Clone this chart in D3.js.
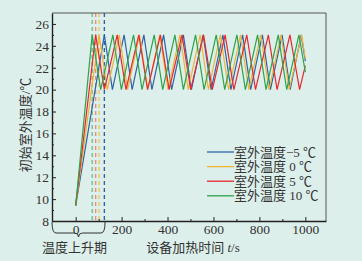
<!DOCTYPE html>
<html lang="zh">
<head>
<meta charset="UTF-8">
<title>初始室外温度</title>
<script src="https://d3js.org/d3.v7.min.js"></script>
<style>
    body {
        margin: 0;
        background-color: #ddefeb;
    }
    svg text {
        font-family: "Liberation Serif", "Noto Sans CJK SC", serif;
        fill: #333;
    }
</style>
</head>
<body>
<div id="chart"></div>
<script>
// series labels (legend order)
const seriesNames = ["室外温度\u22125 \u2103", "室外温度 0 \u2103", "室外温度 5 \u2103", "室外温度 10 \u2103"];
const seriesColors = ["#2e64a6", "#efb33a", "#e8282f", "#2ea34c"];
const dashColors = ["#3563a0", "#f2c458", "#ef8a8c", "#6cc484"];

// [time s, temperature ℃] vertices
const tempMinus5 = [[0,9.4],[125,25],[160,20],[211,25],[246,20],[297,25],[332,20],[383,25],[418,20],[469,25],[504,20],[555,25],[590,20],[641,25],[676,20],[727,25],[762,20],[813,25],[848,20],[899,25],[934,20],[982,25],[1000,22.6]];
const temp0 = [[0,9.4],[102,25],[138,20],[190,25],[226,20],[278,25],[314,20],[366,25],[402,20],[454,25],[490,20],[542,25],[578,20],[630,25],[666,20],[718,25],[754,20],[806,25],[842,20],[894,25],[930,20],[984,25],[1000,22.8]];
const temp5 = [[0,9.4],[87,25],[125,20],[181,25],[219,20],[275,25],[313,20],[369,25],[407,20],[463,25],[501,20],[557,25],[595,20],[651,25],[689,20],[745,25],[783,20],[839,25],[877,20],[933,25],[975,20],[1000,22.2]];
const temp10 = [[0,9.4],[72,25],[109,20],[162,25],[199,20],[252,25],[289,20],[342,25],[379,20],[432,25],[469,20],[522,25],[559,20],[612,25],[649,20],[702,25],[739,20],[792,25],[829,20],[882,25],[919,20],[972,25],[1000,21.6]];
const allSeries = [tempMinus5, temp0, temp5, temp10];

// time each case first reaches the upper limit (dashed markers)
const riseEnd = [125, 102, 87, 72];

const xTicks = [0, 200, 400, 600, 800, 1000];
const xMinor = [100, 300, 500, 700, 900];
const yTicks = [8, 10, 12, 14, 16, 18, 20, 22, 24, 26];
const yMinor = [9, 11, 13, 15, 17, 19, 21, 23, 25];

const width = 362, height = 261;
const margin = {left: 52, right: 36, top: 13, bottom: 40};

const svg = d3.select("#chart").append("svg")
    .attr("width", width)
    .attr("height", height);

const x = d3.scaleLinear().domain([-103, 1090]).range([margin.left, width - margin.right]);
const y = d3.scaleLinear().domain([8, 27]).range([height - margin.bottom, margin.top]);

const x0 = margin.left, x1 = width - margin.right;
const y0 = height - margin.bottom, y1 = margin.top;

// dashed markers for the rise period
svg.append("g")
    .selectAll("line")
    .data(riseEnd)
    .join("line")
    .attr("x1", d => x(d)).attr("x2", d => x(d))
    .attr("y1", y1).attr("y2", y0)
    .attr("stroke", (d, i) => dashColors[i])
    .attr("stroke-width", 1.4)
    .attr("stroke-dasharray", "4,3");

// series lines
const line = d3.line().x(d => x(d[0])).y(d => y(d[1]));
svg.append("g")
    .selectAll("path")
    .data(allSeries)
    .join("path")
    .attr("d", line)
    .attr("fill", "none")
    .attr("stroke", (d, i) => seriesColors[i])
    .attr("stroke-width", 1.2);

// frame
svg.append("line").attr("x1", x0).attr("x2", x1).attr("y1", y1).attr("y2", y1).attr("stroke", "#555").attr("stroke-width", 1);
svg.append("line").attr("x1", x1).attr("x2", x1).attr("y1", y1).attr("y2", y0).attr("stroke", "#555").attr("stroke-width", 1);

// axes, ticks pointing inside
const xAxis = svg.append("g").attr("transform", `translate(0,${y0})`)
    .call(d3.axisBottom(x).tickValues(xTicks).tickFormat(d3.format("d"))
        .tickSizeInner(-4).tickSizeOuter(0).tickPadding(3));
svg.append("g").attr("transform", `translate(0,${y0})`)
    .call(d3.axisBottom(x).tickValues(xMinor).tickSizeInner(-2).tickSizeOuter(0).tickFormat(""))
    .select(".domain").remove();
const yAxis = svg.append("g").attr("transform", `translate(${x0},0)`)
    .call(d3.axisLeft(y).tickValues(yTicks).tickSizeInner(-4).tickSizeOuter(0).tickPadding(3));
svg.append("g").attr("transform", `translate(${x0},0)`)
    .call(d3.axisLeft(y).tickValues(yMinor).tickSizeInner(-2).tickSizeOuter(0).tickFormat(""))
    .select(".domain").remove();

svg.selectAll(".domain").attr("stroke", "#222").attr("stroke-width", 1.4);
svg.selectAll(".tick line").attr("stroke", "#222");
xAxis.selectAll("text").attr("font-size", 13.5).attr("fill", "#333");
yAxis.selectAll("text").attr("font-size", 13.5).attr("fill", "#333");

// brace under the rise period, wrapping the "0" label
const bx0 = x0, bx1 = x(128), bm = (bx0 + bx1) / 2;
const bh = y0 + 12;
const brace = d3.path();
brace.moveTo(bx0, y0 + 1);
brace.quadraticCurveTo(bx0, bh, bx0 + 4, bh);
brace.lineTo(bm - 4, bh);
brace.quadraticCurveTo(bm, bh, bm, bh + 4);
brace.quadraticCurveTo(bm, bh, bm + 4, bh);
brace.lineTo(bx1 - 4, bh);
brace.quadraticCurveTo(bx1, bh, bx1, y0 + 1);
svg.append("path").attr("d", brace.toString())
    .attr("fill", "none").attr("stroke", "#333").attr("stroke-width", 1);

svg.append("text")
    .attr("x", bm - 4).attr("y", 252)
    .attr("text-anchor", "middle")
    .attr("font-size", 13)
    .text("温度上升期");

const xt = svg.append("text")
    .attr("x", 193).attr("y", 252)
    .attr("text-anchor", "middle")
    .attr("font-size", 13);
xt.append("tspan").text("设备加热时间 ");
xt.append("tspan").attr("font-style", "italic").text("t");
xt.append("tspan").text("/s");

svg.append("text")
    .attr("transform", `translate(30,${(y0 + y1) / 2 + 8}) rotate(-90)`)
    .attr("text-anchor", "middle")
    .attr("font-size", 13)
    .text("初始室外温度/\u2103");

// legend
const legend = svg.append("g").attr("transform", "translate(207,152)");
const rows = legend.selectAll("g")
    .data(seriesNames)
    .join("g")
    .attr("transform", (d, i) => `translate(0,${i * 14.6})`);
rows.append("line")
    .attr("x1", 0).attr("x2", 27)
    .attr("stroke", (d, i) => seriesColors[i])
    .attr("stroke-width", 1.3);
rows.append("text")
    .attr("x", 27).attr("dy", "0.35em")
    .attr("font-size", 13)
    .text(d => d);
</script>
</body>
</html>
